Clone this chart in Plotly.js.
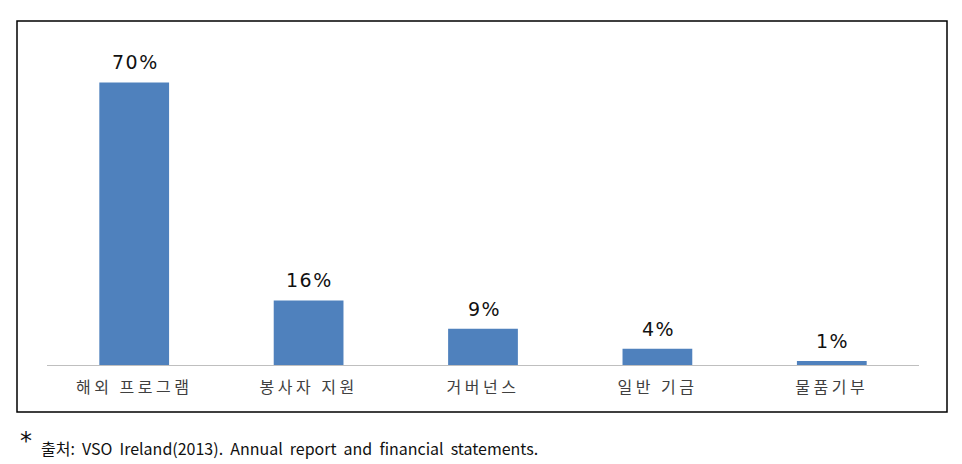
<!DOCTYPE html>
<html>
<head>
<meta charset="utf-8">
<script src="https://cdn.plot.ly/plotly-3.0.1.min.js"></script>
<style>
  html, body { margin: 0; padding: 0; background: #fff; }
  #chart { width: 962px; height: 464px; }
</style>
</head>
<body>
<div id="chart"></div>
<script>
// Data
const categories = ["해외 프로그램", "봉사자 지원", "거버넌스", "일반 기금", "물품기부"];
const shares = [70, 16, 9, 4, 1];
const valueLabels = ["70%", "16%", "9%", "4%", "1%"];
const footnote = "출처: VSO Ireland(2013). Annual report and financial statements.";

const W = 962, H = 464;
const plotL = 47, plotR = 919, plotT = 42, plotB = 365;
const px2x = px => (px - plotL) / (plotR - plotL);
const py2y = py => (plotB - py) / (plotB - plotT);
const spaced = (s, ls, ws) =>
  '<span style="letter-spacing:' + ls + 'px;word-spacing:' + (ws || 0) + 'px">' + s + '</span>';

const trace = {
  type: "bar",
  x: categories,
  y: shares,
  marker: { color: "#4f81bd" },
  hoverinfo: "none"
};

const annotations = categories.map((c, i) => ({
  x: c, y: shares[i], xref: "x", yref: "y",
  text: spaced(valueLabels[i], 1.5), showarrow: false,
  yanchor: "bottom", yshift: 7, xshift: 1,
  font: { family: "DejaVu Sans", size: 19, color: "#111" }
}));

annotations.push({
  xref: "paper", yref: "paper", x: px2x(18), y: py2y(441),
  xanchor: "left", yanchor: "middle", showarrow: false,
  text: "*", font: { family: "DejaVu Sans", size: 24, color: "#111" }
});
annotations.push({
  xref: "paper", yref: "paper", x: px2x(39), y: py2y(448),
  xanchor: "left", yanchor: "middle", showarrow: false,
  text: spaced(footnote, 0, 3.5),
  font: { family: "Noto Sans CJK KR", size: 16, color: "#111" }
});

const layout = {
  width: W, height: H,
  margin: { l: plotL, r: W - plotR, t: plotT, b: H - plotB, pad: 0 },
  paper_bgcolor: "#fff", plot_bgcolor: "#fff",
  showlegend: false,
  bargap: 0.6,
  xaxis: {
    type: "category",
    tickvals: categories,
    ticktext: categories.map(c => spaced(c, 3.5)),
    ticklabelstandoff: 8,
    showline: true, linecolor: "#bfbfbf", linewidth: 1,
    showgrid: false, zeroline: false, ticks: "",
    tickfont: { family: "Noto Sans CJK KR", size: 16, color: "#404040" },
    fixedrange: true
  },
  yaxis: {
    range: [0, 80], visible: false, showgrid: false, zeroline: false, fixedrange: true
  },
  shapes: [{
    type: "rect", xref: "paper", yref: "paper",
    x0: px2x(17), x1: px2x(947), y0: py2y(412), y1: py2y(21),
    line: { color: "#000", width: 1.5 }, fillcolor: "rgba(0,0,0,0)"
  }],
  annotations: annotations
};

Plotly.newPlot("chart", [trace], layout, { displayModeBar: false, staticPlot: true });
</script>
</body>
</html>
